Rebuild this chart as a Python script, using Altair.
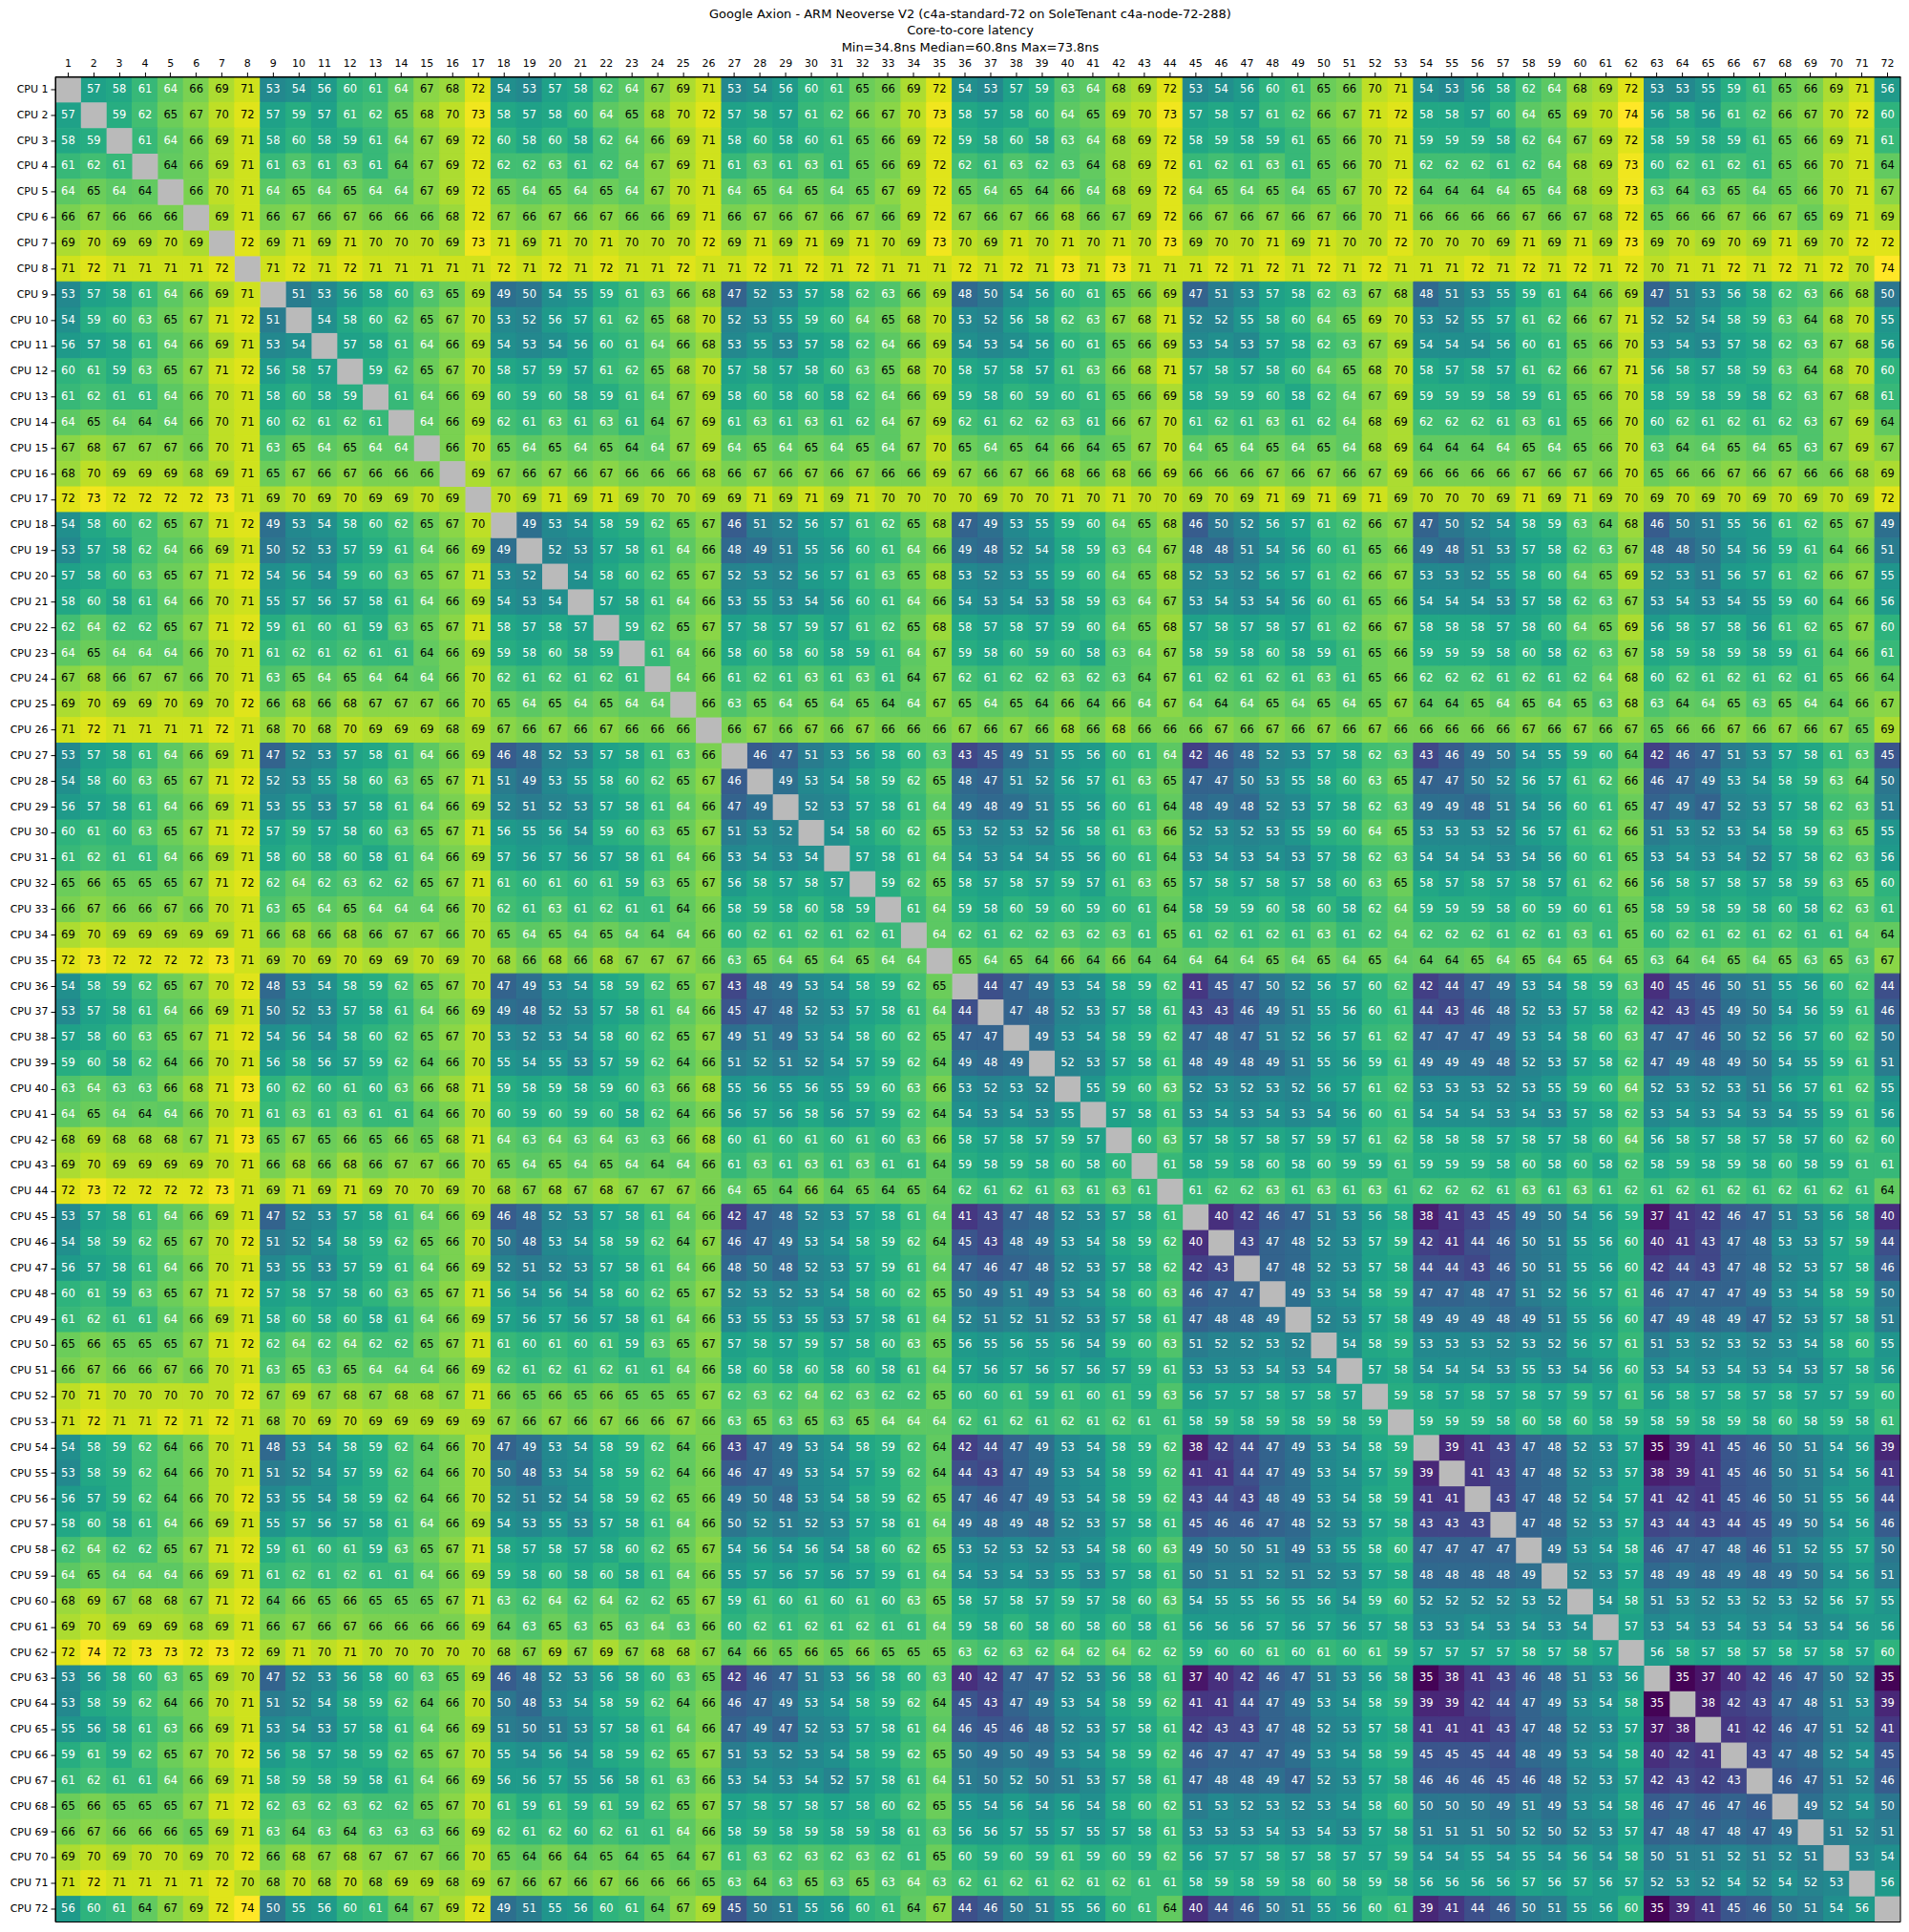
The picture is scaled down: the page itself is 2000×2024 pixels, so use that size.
import altair as alt
import pandas as pd

alt.data_transformers.disable_max_rows()

_ = None
title_lines = [
    "Google Axion - ARM Neoverse V2 (c4a-standard-72 on SoleTenant c4a-node-72-288)",
    "Core-to-core latency",
    "Min=34.8ns Median=60.8ns Max=73.8ns",
]
vmin, vmax = 34.8, 73.8

row01 = [_,57,58,61,64,66,69,71,53,54,56,60,61,64,67,68,72,54,53,57,58,62,64,67, 69,71,53,54,56,60,61,65,66,69,72,54,53,57,59,63,64,68,69,72,53,54,56,60, 61,65,66,70,71,54,53,56,58,62,64,68,69,72,53,53,55,59,61,65,66,69,71,56]
row02 = [57,_,59,62,65,67,70,72,57,59,57,61,62,65,68,70,73,58,57,58,60,64,65,68, 70,72,57,58,57,61,62,66,67,70,73,58,57,58,60,64,65,69,70,73,57,58,57,61, 62,66,67,71,72,58,58,57,60,64,65,69,70,74,56,58,56,61,62,66,67,70,72,60]
row03 = [58,59,_,61,64,66,69,71,58,60,58,59,61,64,67,69,72,60,58,60,58,62,64,66, 69,71,58,60,58,60,61,65,66,69,72,59,58,60,58,63,64,68,69,72,58,59,58,59, 61,65,66,70,71,59,59,59,58,62,64,67,69,72,58,59,58,59,61,65,66,69,71,61]
row04 = [61,62,61,_,64.4,66,69,71,61,63,61,63,61,64.4,67,69,72,62,62,63,61,62,64,67, 69,71,61,63,61,63,61,65,66,69,72,62,61,63,62,63,64.4,68,69,72,61,62,61,63, 61,65,66,70,71,62,62,62,61,62,64,68,69,73,60,62,61,62,61,65,66,70,71,64.4]
row05 = [64,65,64,64.4,_,66,70,71,64,65,64,65,64,64,67,69,72,65,64,65,64,65,64,67, 70,71,64,65,64,65,64,65,67,69,72,65,64,65,64.4,66,64,68,69,72,64,65,64,65, 64,65,67,70,72,64.4,64.4,64.4,64,65,64,68,69,73,63,64.4,63,65,64,65,66,70,71,67]
row06 = [66,67,66,66,66,_,69,71,66,67,66,67,66,66,66,68,72,67,66,67,66,67,66,66, 69,71,66,67,66,67,66,67,66,69,72,67,66,67,66,68,66,67,69,72,66,67,66,67, 66,67,66,70,71,66,66,66,66,67,66,67,68,72,65,66,66,67,66,67,65,69,71,69]
row07 = [69,70,69,69,70,69,_,72,69,71,69,71,70,70,70,69,73,71,69,71,70,71,70,70, 70,72,69,71,69,71,69,71,70,69,73,70,69,71,70,71,70,71,70,73,69,70,70,71, 69,71,70,70,72,70,70,70,69,71,69,71,69,73,69,70,69,70,69,71,69,70,72,72]
row08 = [71,72,71,71,71,71,72,_,71,72,71,72,71,71,71,71,71,72,71,72,71,72,71,71, 72,71,71,72,71,72,71,72,71,71,71,72,71,72,71,73,71,73,71,71,71,72,71,72, 71,72,71,72,71,71,71,72,71,72,71,72,71,72,70,71,71,72,71,72,71,72,70,74]
row09 = [53,57,58,61,64,66,69,71,_,51,53,56,58,60,63,65,69,49,50,54,55,59,61,63, 66,68,47,52,53,57,58,62,63,66,69,48,50,54,56,60,61,65,66,69,47,51,53,57, 58,62,63,67,68,48,51,53,55,59,61,64.4,66,69,47,51,53,56,58,62,63,66,68,50]
row10 = [54,59,60,63,65,67,71,72,51,_,54,58,60,62,65,67,70,53,52,56,57,61,62,65, 68,70,52,53,55,59,60,64,65,68,70,53,52,56,58,62,63,67,68,71,52,52,55,58, 60,64,65,69,70,53,52,55,57,61,62,66,67,71,52,52,54,58,59,63,64.4,68,70,55]
row11 = [56,57,58,61,64,66,69,71,53,54,_,57,58,61,64,66,69,54,53,54,56,60,61,64, 66,68,53,55,53,57,58,62,64,66,69,54,53,54,56,60,61,65,66,69,53,54,53,57, 58,62,63,67,69,54,54,54,56,60,61,65,66,70,53,54,53,57,58,62,63,67,68,56]
row12 = [60,61,59,63,65,67,71,72,56,58,57,_,59,62,65,67,70,58,57,59,57,61,62,65, 68,70,57,58,57,58,60,63,65,68,70,58,57,58,57,61,63,66,68,71,57,58,57,58, 60,64,65,68,70,58,57,58,57,61,62,66,67,71,56,58,57,58,59,63,64.4,68,70,60]
row13 = [61,62,61,61,64,66,70,71,58,60,58,59,_,61,64,66,69,60,59,60,58,59,61,64, 67,69,58,60,58,60,58,62,64,66,69,59,58,60,59,60,61,65,66,69,58,59,59,60, 58,62,64,67,69,59,59,59,58,59,61,65,66,70,58,59,58,59,58,62,63,67,68,61]
row14 = [64,65,64,64.4,64,66,70,71,60,62,61,62,61,_,64,66,69,62,61,63,61,63,61,64.4, 67,69,61,63,61,63,61,62,64,67,69,62,61,62,62,63,61,66,67,70,61,62,61,63, 61,62,64,68,69,62,62,62,61,63,61,65,66,70,60,62,61,62,61,62,63,67,69,64.4]
row15 = [67,68,67,67,67,66,70,71,63,65,64,65,64,64,_,66,70,65,64,65,64,65,64.4,64, 67,69,64,65,64,65,64,65,64,67,70,65,64,65,64.4,66,64.4,65,67,70,64,65,64,65, 64,65,64,68,69,64.4,64.4,64.4,64,65,64,65,66,70,63,64.4,64,65,64,65,63,67,69,67]
row16 = [68,70,69,69,69,68,69,71,65,67,66,67,66,66,66,_,69,67,66,67,66,67,66,66, 66,68,66,67,66,67,66,67,66,66,69,67,66,67,66,68,66,68,66,69,66,66,66,67, 66,67,66,67,69,66,66,66,66,67,66,67,66,70,65,66,66,67,66,67,66,66,68,69]
row17 = [72,73,72,72,72,72,73,71,69,70,69,70,69,69,70,69,_,70,69,71,69,71,69,70, 70,69,69,71,69,71,69,71,70,70,70,70,69,70,70,71,70,71,70,70,69,70,69,71, 69,71,69,71,69,70,70,70,69,71,69,71,69,70,69,70,69,70,69,70,69,70,69,72]
row18 = [54,58,60,62,65,67,71,72,49,53,54,58,60,62,65,67,70,_,49,53,54,58,59,62, 65,67,46,51,52,56,57,61,62,65,68,47,49,53,55,59,60,64,65,68,46,50,52,56, 57,61,62,66,67,47,50,52,54,58,59,63,64.4,68,46,50,51,55,56,61,62,65,67,49]
row19 = [53,57,58,62,64,66,69,71,50,52,53,57,59,61,64,66,69,49,_,52,53,57,58,61, 64,66,48,49,51,55,56,60,61,64,66,49,48,52,54,58,59,63,64,67,48,48,51,54, 56,60,61,65,66,49,48,51,53,57,58,62,63,67,48,48,50,54,56,59,61,64.4,66,51]
row20 = [57,58,60,63,65,67,71,72,54,56,54,59,60,63,65,67,71,53,52,_,54,58,60,62, 65,67,52,53,52,56,57,61,63,65,68,53,52,53,55,59,60,64,65,68,52,53,52,56, 57,61,62,66,67,53,53,52,55,58,60,64,65,69,52,53,51,56,57,61,62,66,67,55]
row21 = [58,60,58,61,64,66,70,71,55,57,56,57,58,61,64,66,69,54,53,54,_,57,58,61, 64,66,53,55,53,54,56,60,61,64,66,54,53,54,53,58,59,63,64,67,53,54,53,54, 56,60,61,65,66,54,54,54,53,57,58,62,63,67,53,54,53,54,55,59,60,64.4,66,56]
row22 = [62,64,62,62,65,67,71,72,59,61,60,61,59,63,65,67,71,58,57,58,57,_,59,62, 65,67,57,58,57,59,57,61,62,65,68,58,57,58,57,59,60,64,65,68,57,58,57,58, 57,61,62,66,67,58,58,58,57,58,60,64,65,69,56,58,57,58,56,61,62,65,67,60]
row23 = [64,65,64,64,64,66,70,71,61,62,61,62,61,61,64.4,66,69,59,58,60,58,59,_,61, 64,66,58,60,58,60,58,59,61,64,67,59,58,60,59,60,58,63,64,67,58,59,58,60, 58,59,61,65,66,59,59,59,58,60,58,62,63,67,58,59,58,59,58,59,61,64.4,66,61]
row24 = [67,68,66,67,67,66,70,71,63,65,64,65,64,64.4,64,66,70,62,61,62,61,62,61,_, 64,66,61,62,61,63,61,63,61,64.4,67,62,61,62,62,63,62,63,64.4,67,61,62,61,62, 61,63,61,65,66,62,62,62,61,62,61,62,64,68,60,62,61,62,61,62,61,65,66,64.4]
row25 = [69,70,69,69,70,69,70,72,66,68,66,68,67,67,67,66,70,65,64,65,64,65,64,64, _,66,63,65,64,65,64,65,64.4,64,67,65,64,65,64.4,66,64.4,66,64,67,64,64.4,64,65, 64,65,64,65,67,64.4,64.4,65,64,65,64,65,63,68,63,64.4,64,65,63,65,64,64.4,66,67]
row26 = [71,72,71,71,71,71,72,71,68,70,68,70,69,69,69,68,69,67,66,67,66,67,66,66, 66,_,66,67,66,67,66,67,66,66,66,67,66,67,66,68,66,68,66,66,66,67,66,67, 66,67,66,67,66,66,66,66,66,67,66,67,66,67,65,66,66,67,66,67,66,67,65,69]
row27 = [53,57,58,61,64,66,69,71,47,52,53,57,58,61,64,66,69,46,48,52,53,57,58,61, 63,66,_,46,47,51,53,56,58,60,63,43,45,49,51,55,56,60,61,64,42,46,48,52, 53,57,58,62,63,43,46,49,50,54,55,59,60,64.4,42,46,47,51,53,57,58,61,63,45]
row28 = [54,58,60,63,65,67,71,72,52,53,55,58,60,63,65,67,71,51,49,53,55,58,60,62, 65,67,46,_,49,53,54,58,59,62,65,48,47,51,52,56,57,61,63,65,47,47,50,53, 55,58,60,63,65,47,47,50,52,56,57,61,62,66,46,47,49,53,54,58,59,63,64.4,50]
row29 = [56,57,58,61,64,66,69,71,53,55,53,57,58,61,64,66,69,52,51,52,53,57,58,61, 64,66,47,49,_,52,53,57,58,61,64,49,48,49,51,55,56,60,61,64.4,48,49,48,52, 53,57,58,62,63,49,49,48,51,54,56,60,61,65,47,49,47,52,53,57,58,62,63,51]
row30 = [60,61,60,63,65,67,71,72,57,59,57,58,60,63,65,67,71,56,55,56,54,59,60,63, 65,67,51,53,52,_,54,58,60,62,65,53,52,53,52,56,58,61,63,66,52,53,52,53, 55,59,60,64,65,53,53,53,52,56,57,61,62,66,51,53,52,53,54,58,59,63,65,55]
row31 = [61,62,61,61,64,66,69,71,58,60,58,60,58,61,64,66,69,57,56,57,56,57,58,61, 64,66,53,54,53,54,_,57,58,61,64,54,53,54,54,55,56,60,61,64.4,53,54,53,54, 53,57,58,62,63,54,54,54,53,54,56,60,61,65,53,54,53,54,52,57,58,62,63,56]
row32 = [65,66,65,65,65,67,71,72,62,64,62,63,62,62,65,67,71,61,60,61,60,61,59,63, 65,67,56,58,57,58,57,_,59,62,65,58,57,58,57,59,57,61,63,65,57,58,57,58, 57,58,60,63,65,58,57,58,57,58,57,61,62,66,56,58,57,58,57,58,59,63,65,60]
row33 = [66,67,66,66,67,66,70,71,63,65,64,65,64,64,64,66,70,62,61,63,61,62,61,61, 64.4,66,58,59,58,60,58,59,_,61,64,59,58,60,59,60,59,60,61,64.4,58,59,59,60, 58,60,58,62,64,59,59,59,58,60,59,60,61,65,58,59,58,59,58,60,58,62,63,61]
row34 = [69,70,69,69,69,69,69,71,66,68,66,68,66,67,67,66,70,65,64,65,64,65,64,64.4, 64,66,60,62,61,62,61,62,61,_,64,62,61,62,62,63,62,63,61,65,61,62,61,62, 61,63,61,62,64,62,62,62,61,62,61,63,61,65,60,62,61,62,61,62,61,61,64,64.4]
row35 = [72,73,72,72,72,72,73,71,69,70,69,70,69,69,70,69,70,68,66,68,66,68,67,67, 67,66,63,65,64,65,64,65,64,64,_,65,64,65,64.4,66,64.4,66,64.4,64.4,64,64.4,64,65, 64,65,64,65,64,64.4,64.4,65,64,65,64,65,64,65,63,64.4,64,65,64,65,63,65,63,67]
row36 = [54,58,59,62,65,67,70,72,48,53,54,58,59,62,65,67,70,47,49,53,54,58,59,62, 65,67,43,48,49,53,54,58,59,62,65,_,44,47,49,53,54,58,59,62,41,45,47,50, 52,56,57,60,62,42,44,47,49,53,54,58,59,63,40,45,46,50,51,55,56,60,62,44]
row37 = [53,57,58,61,64,66,69,71,50,52,53,57,58,61,64,66,69,49,48,52,53,57,58,61, 64,66,45,47,48,52,53,57,58,61,64,44,_,47,48,52,53,57,58,61,43,43,46,49, 51,55,56,60,61,44,43,46,48,52,53,57,58,62,42,43,45,49,50,54,56,59,61,46]
row38 = [57,58,60,63,65,67,71,72,54,56,54,58,60,62,65,67,70,53,52,53,54,58,60,62, 65,67,49,51,49,53,54,58,60,62,65,47,47,_,49,53,54,58,59,62,47,48,47,51, 52,56,57,61,62,47,47,47,49,53,54,58,60,63,47,47,46,50,52,56,57,60,62,50]
row39 = [59,60,58,62,64.4,66,70,71,56,58,56,57,59,62,64.4,66,70,55,54,55,53,57,59,62, 64.4,66,51,52,51,52,54,57,59,62,64.4,49,48,49,_,52,53,57,58,61,48,49,48,49, 51,55,56,59,61,49,49,49,48,52,53,57,58,62,47,49,48,49,50,54,55,59,61,51]
row40 = [63,64,63,63,66,68,71,73,60,62,60,61,60,63,66,68,71,59,58,59,58,59,60,63, 66,68,55,56,55,56,55,59,60,63,66,53,52,53,52,_,55,59,60,63,52,53,52,53, 52,56,57,61,62,53,53,53,52,53,55,59,60,64,52,53,52,53,51,56,57,61,62,55]
row41 = [64,65,64,64.4,64,66,70,71,61,63,61,63,61,61,64.4,66,70,60,59,60,59,60,58,62, 64.4,66,56,57,56,58,56,57,59,62,64.4,54,53,54,53,55,_,57,58,61,53,54,53,54, 53,54,56,60,61,54,54,54,53,54,53,57,58,62,53,54,53,54,53,54,55,59,61,56]
row42 = [68,69,68,68,68,67,71,73,65,67,65,66,65,66,65,68,71,64,63,64,63,64,63,63, 66,68,60,61,60,61,60,61,60,63,66,58,57,58,57,59,57,_,60,63,57,58,57,58, 57,59,57,61,62,58,58,58,57,58,57,58,60,64,56,58,57,58,57,58,57,60,62,60]
row43 = [69,70,69,69,69,69,70,71,66,68,66,68,66,67,67,66,70,65,64,65,64,65,64,64.4, 64,66,61,63,61,63,61,63,61,61,64.4,59,58,59,58,60,58,60,_,61,58,59,58,60, 58,60,59,59,61,59,59,59,58,60,58,60,58,62,58,59,58,59,58,60,58,59,61,61]
row44 = [72,73,72,72,72,72,73,71,69,71,69,71,69,70,70,69,70,68,67,68,67,68,67,67, 67,66,64,65,64.4,66,64.4,65,64.4,65,64.4,62,61,62,61,63,61,63,61,_,61,62,62,63, 61,63,61,63,61,62,62,62,61,63,61,63,61,62,61,62,61,62,61,62,61,62,61,64.4]
row45 = [53,57,58,61,64,66,69,71,47,52,53,57,58,61,64,66,69,46,48,52,53,57,58,61, 64,66,42,47,48,52,53,57,58,61,64,41,43,47,48,52,53,57,58,61,_,40,42,46, 47,51,53,56,58,38,41,43,45,49,50,54,56,59,37,41,42,46,47,51,53,56,58,40]
row46 = [54,58,59,62,65,67,70,72,51,52,54,58,59,62,65,66,70,50,48,53,54,58,59,62, 64.4,67,46,47,49,53,54,58,59,62,64.4,45,43,48,49,53,54,58,59,62,40,_,43,47, 48,52,53,57,59,42,41,44,46,50,51,55,56,60,40,41,43,47,48,53,53,57,59,44]
row47 = [56,57,58,61,64,66,70,71,53,55,53,57,59,61,64,66,69,52,51,52,53,57,58,61, 64,66,48,50,48,52,53,57,59,61,64,47,46,47,48,52,53,57,58,62,42,43,_,47, 48,52,53,57,58,44,44,43,46,50,51,55,56,60,42,44,43,47,48,52,53,57,58,46]
row48 = [60,61,59,63,65,67,71,72,57,58,57,58,60,63,65,67,71,56,54,56,54,58,60,62, 65,67,52,53,52,53,54,58,60,62,65,50,49,51,49,53,54,58,60,63,46,47,47,_, 49,53,54,58,59,47,47,48,47,51,52,56,57,61,46,47,47,47,49,53,54,58,59,50]
row49 = [61,62,61,61,64,66,69,71,58,60,58,60,58,61,64,66,69,57,56,57,56,57,58,61, 64,66,53,55,53,55,53,57,58,61,64,52,51,52,51,52,53,57,58,61,47,48,48,49, _,52,53,57,58,49,49,49,48,49,51,55,56,60,47,49,48,49,47,52,53,57,58,51]
row50 = [65,66,65,65,65,67,71,72,62,64,62,64,62,62,65,67,71,61,60,61,60,61,59,63, 65,67,57,58,57,59,57,58,60,63,65,56,55,56,55,56,54,59,60,63,51,52,52,53, 52,_,54,58,59,53,53,53,52,53,52,56,57,61,51,53,52,53,52,53,54,58,60,55]
row51 = [66,67,66,66,67,66,70,71,63,65,63,65,64,64,64,66,69,62,61,62,61,62,61,61, 64,66,58,60,58,60,58,60,58,61,64,57,56,57,56,57,56,57,59,61,53,53,53,54, 53,54,_,57,58,54,54,54,53,55,53,54,56,60,53,54,53,54,53,54,53,57,58,56]
row52 = [70,71,70,70,70,70,70,72,67,69,67,68,67,68,68,67,71,66,65,66,65,66,65,65, 65,67,62,63,62,64,62,63,62,62,65,60,60,61,59,61,60,61,59,63,56,57,57,58, 57,58,57,_,59,58,57,58,57,58,57,59,57,61,56,58,57,58,57,58,57,57,59,60]
row53 = [71,72,71,71,72,71,72,71,68,70,69,70,69,69,69,69,69,67,66,67,66,67,66,66, 67,66,63,65,63,65,63,65,64,64,64,62,61,62,61,62,61,62,61,61,58,59,58,59, 58,59,58,59,_,59,59,59,58,60,58,60,58,59,58,59,58,59,58,60,58,59,58,61]
row54 = [54,58,59,62,64.4,66,70,71,48,53,54,58,59,62,64.4,66,70,47,49,53,54,58,59,62, 64.4,66,43,47,49,53,54,58,59,62,64.4,42,44,47,49,53,54,58,59,62,38,42,44,47, 49,53,54,58,59,_,39,41,43,47,48,52,53,57,35,39,41,45,46,50,51,54,56,39]
row55 = [53,58,59,62,64.4,66,70,71,51,52,54,57,59,62,64.4,66,70,50,48,53,54,58,59,62, 64.4,66,46,47,49,53,54,57,59,62,64.4,44,43,47,49,53,54,58,59,62,41,41,44,47, 49,53,54,57,59,39,_,41,43,47,48,52,53,57,38,39,41,45,46,50,51,54,56,41]
row56 = [56,57,59,62,64.4,66,70,72,53,55,54,58,59,62,64.4,66,70,52,51,52,54,58,59,62, 65,66,49,50,48,53,54,58,59,62,65,47,46,47,49,53,54,58,59,62,43,44,43,48, 49,53,54,58,59,41,41,_,43,47,48,52,54,57,41,42,41,45,46,50,51,55,56,44]
row57 = [58,60,58,61,64,66,69,71,55,57,56,57,58,61,64,66,69,54,53,55,53,57,58,61, 64,66,50,52,51,52,53,57,58,61,64,49,48,49,48,52,53,57,58,61,45,46,46,47, 48,52,53,57,58,43,43,43,_,47,48,52,53,57,43,44,43,44,45,49,50,54,56,46]
row58 = [62,64,62,62,65,67,71,72,59,61,60,61,59,63,65,67,71,58,57,58,57,58,60,62, 65,67,54,56,54,56,54,58,60,62,65,53,52,53,52,53,54,58,60,63,49,50,50,51, 49,53,55,58,60,47,47,47,47,_,49,53,54,58,46,47,47,48,46,51,52,55,57,50]
row59 = [64,65,64,64,64,66,69,71,61,62,61,62,61,61,64,66,69,59,58,60,58,60,58,61, 64,66,55,57,56,57,56,57,59,61,64,54,53,54,53,55,53,57,58,61,50,51,51,52, 51,52,53,57,58,48,48,48,48,49,_,52,53,57,48,49,48,49,48,49,50,54,56,51]
row60 = [68,69,67,68,68,67,71,72,64.4,66,65,66,65,65,65,67,71,63,62,64,62,64,62,62, 65,67,59,61,60,61,60,61,60,63,65,58,57,58,57,59,57,58,60,63,54,55,55,56, 55,56,54,59,60,52,52,52,52,53,52,_,54,58,51,53,52,53,52,53,52,56,57,55]
row61 = [69,70,69,69,69,68,69,71,66,67,66,67,66,66,66,66,69,64.4,63,65,63,65,63,64, 63,66,60,62,61,62,61,62,61,61,64,59,58,60,58,60,58,60,58,61,56,56,56,57, 56,57,56,57,58,53,53,54,53,54,53,54,_,57,53,54,53,54,53,54,53,54,56,56]
row62 = [72,74,72,73,73,72,73,72,69,71,70,71,70,70,70,70,70,68,67,69,67,69,67,68, 68,67,64.4,66,65,66,65,66,65,65,65,63,62,63,62,64,62,64,62,62,59,60,60,61, 60,61,60,61,59,57,57,57,57,58,57,58,57,_,56,58,57,58,57,58,57,58,57,60]
row63 = [53,56,58,60,63,65,69,70,47,52,53,56,58,60,63,65,69,46,48,52,53,56,58,60, 63,65,42,46,47,51,53,56,58,60,63,40,42,47,47,52,53,56,58,61,37,40,42,46, 47,51,53,56,58,35,38,41,43,46,48,51,53,56,_,35,37,40,42,46,47,50,52,35]
row64 = [53,58,59,62,64.4,66,70,71,51,52,54,58,59,62,64.4,66,70,50,48,53,54,58,59,62, 64.4,66,46,47,49,53,54,58,59,62,64.4,45,43,47,49,53,54,58,59,62,41,41,44,47, 49,53,54,58,59,39,39,42,44,47,49,53,54,58,35,_,38,42,43,47,48,51,53,39]
row65 = [55,56,58,61,63,66,69,71,53,54,53,57,58,61,64,66,69,51,50,51,53,57,58,61, 64,66,47,49,47,52,53,57,58,61,64,46,45,46,48,52,53,57,58,61,42,43,43,47, 48,52,53,57,58,41,41,41,43,47,48,52,53,57,37,38,_,41,42,46,47,51,52,41]
row66 = [59,61,59,62,65,67,70,72,56,58,57,58,59,62,65,67,70,55,54,56,54,58,59,62, 65,67,51,53,52,53,54,58,59,62,65,50,49,50,49,53,54,58,59,62,46,47,47,47, 49,53,54,58,59,45,45,45,44,48,49,53,54,58,40,42,41,_,43,47,48,52,54,45]
row67 = [61,62,61,61,64,66,69,71,58,59,58,59,58,61,64,66,69,56,56,57,55,56,58,61, 63,66,53,54,53,54,52,57,58,61,64,51,50,52,50,51,53,57,58,61,47,48,48,49, 47,52,53,57,58,46,46,46,45,46,48,52,53,57,42,43,42,43,_,46,47,51,52,46]
row68 = [65,66,65,65,65,67,71,72,62,63,62,63,62,62,65,67,70,61,59,61,59,61,59,62, 65,67,57,58,57,58,57,58,60,62,65,55,54,56,54,56,54,58,60,62,51,53,52,53, 52,53,54,58,60,50,50,50,49,51,49,53,54,58,46,47,46,47,46,_,49,52,54,50]
row69 = [66,67,66,66,66,65,69,71,63,64.4,63,64.4,63,63,63,66,69,62,61,62,60,62,61,61, 64,66,58,59,58,59,58,59,58,61,63,56,56,57,55,57,55,57,58,61,53,53,53,54, 53,54,53,57,58,51,51,51,50,52,50,52,53,57,47,48,47,48,47,49,_,51,52,51]
row70 = [69,70,69,70,70,69,70,72,66,68,67,68,67,67,67,66,70,65,64.4,66,64.4,65,64.4,65, 64.4,67,61,63,62,63,62,63,62,61,65,60,59,60,59,61,59,60,59,62,56,57,57,58, 57,58,57,57,59,54,54,55,54,55,54,56,54,58,50,51,51,52,51,52,51,_,53,54]
row71 = [71,72,71,71,71,71,72,70,68,70,68,70,68,69,69,68,69,67,66,67,66,67,66,66, 66,65,63,64.4,63,65,63,65,63,64,63,62,61,62,61,62,61,62,61,61,58,59,58,59, 58,60,58,59,58,56,56,56,56,57,56,57,56,57,52,53,52,54,52,54,52,53,_,56]
row72 = [56,60,61,64.4,67,69,72,74,50,55,56,60,61,64.4,67,69,72,49,51,55,56,60,61,64.4, 67,69,45,50,51,55,56,60,61,64.4,67,44,46,50,51,55,56,60,61,64.4,40,44,46,50, 51,55,56,60,61,39,41,44,46,50,51,55,56,60,35,39,41,45,46,50,51,54,56,_]

rows = [row01,row02,row03,row04,row05,row06,row07,row08,row09,row10,row11,row12,
        row13,row14,row15,row16,row17,row18,row19,row20,row21,row22,row23,row24,
        row25,row26,row27,row28,row29,row30,row31,row32,row33,row34,row35,row36,
        row37,row38,row39,row40,row41,row42,row43,row44,row45,row46,row47,row48,
        row49,row50,row51,row52,row53,row54,row55,row56,row57,row58,row59,row60,
        row61,row62,row63,row64,row65,row66,row67,row68,row69,row70,row71,row72]

cols = [str(i + 1) for i in range(72)]
cpus = [f"CPU {i + 1}" for i in range(72)]
recs = [{"cpu": cpus[i], "col": cols[j], "v": rows[i][j]} for i in range(72) for j in range(72)]
df_cells = pd.DataFrame([r for r in recs if r["v"] is not None])
df_diag = pd.DataFrame([r for r in recs if r["v"] is None])[["cpu", "col"]]

FONT = "DejaVu Sans"
SIZE = 1934
x = alt.X("col:N", sort=cols, title=None, scale=alt.Scale(paddingInner=0, paddingOuter=0),
          axis=alt.Axis(orient="top", labelAngle=0, labelFont=FONT, labelFontSize=11, labelColor="black",
                        tickColor="black", tickSize=5, labelPadding=4, domainColor="black", grid=False,
                        labelOverlap=False, zindex=1))
y = alt.Y("cpu:N", sort=cpus, title=None, scale=alt.Scale(paddingInner=0, paddingOuter=0),
          axis=alt.Axis(labelFont=FONT, labelFontSize=11, labelColor="black", tickColor="black", tickSize=5,
                        labelPadding=3, domainColor="black", grid=False, labelOverlap=False, zindex=1))
cscale = alt.Scale(scheme="viridis", domain=[vmin, vmax])

cells = alt.Chart(df_cells).mark_rect(strokeWidth=1, clip=True).encode(
    x=x, y=y,
    color=alt.Color("v:Q", scale=cscale, legend=None),
    stroke=alt.Stroke("v:Q", scale=cscale, legend=None),
)
diag = alt.Chart(df_diag).mark_rect(color="#bababa").encode(x=x, y=y)
labels = alt.Chart(df_cells).mark_text(font=FONT, fontSize=11.5).encode(
    x=x, y=y,
    text=alt.Text("v:Q", format=".0f"),
    color=alt.condition("datum.v > 64.2", alt.value("black"), alt.value("white")),
)
frame = alt.Chart(df_diag.head(1)).mark_rect(filled=False, stroke="black", strokeWidth=1).encode(
    x=alt.value(0), x2=alt.value(SIZE), y=alt.value(0), y2=alt.value(SIZE),
)

chart = (
    alt.layer(cells, diag, labels, frame)
    .properties(
        width=SIZE, height=SIZE,
        padding={"left": 2, "top": 0, "right": 0, "bottom": 0},
        title=alt.TitleParams(text=title_lines, anchor="middle", font=FONT, fontSize=13,
                              fontWeight="normal", color="black", lineHeight=18, offset=3, dx=-8),
    )
    .configure_view(stroke=None)
    .configure(background="white")
)
chart.save("out.html", embed_options={"renderer": "svg", "actions": False})
